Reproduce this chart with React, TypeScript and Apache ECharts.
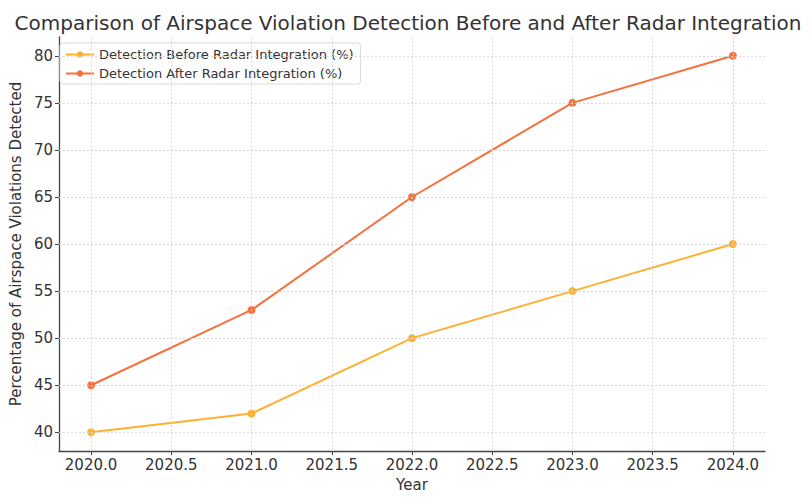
import React, { useEffect, useRef } from "react";
import * as echarts from "echarts";

const years = [2020, 2021, 2022, 2023, 2024];
const beforeValues = [40, 42, 50, 55, 60];
const afterValues = [45, 53, 65, 75, 80];
const seriesNames = ["Detection Before Radar Integration (%)", "Detection After Radar Integration (%)"];
const xTicks = [2020, 2020.5, 2021, 2021.5, 2022, 2022.5, 2023, 2023.5, 2024];
const yTicks = [40, 45, 50, 55, 60, 65, 70, 75, 80];

const FONT = "DejaVu Sans";

export default function App() {
  const ref = useRef<HTMLDivElement>(null);
  useEffect(() => {
    const chart = echarts.init(ref.current!, null, { renderer: "svg" });
    const mk = (vals: number[]) => years.map((y, i) => [y, vals[i]]);
    chart.setOption({
      animation: false,
      backgroundColor: "#fff",
      textStyle: { fontFamily: FONT },
      title: {
        text: "Comparison of Airspace Violation Detection Before and After Radar Integration",
        left: 403,
        textAlign: "center",
        top: 8,
        textStyle: { fontFamily: FONT, fontSize: 20, fontWeight: "normal", color: "#333" },
      },
      legend: {
        orient: "vertical",
        left: 60,
        top: 43,
        itemWidth: 28,
        itemHeight: 8,
        itemGap: 6,
        padding: [5, 7, 4, 5],
        borderColor: "#d9d9d9",
        borderWidth: 1,
        borderRadius: 3,
        backgroundColor: "rgba(255,255,255,0.9)",
        textStyle: { fontFamily: FONT, fontSize: 13, color: "#333" },
        data: seriesNames,
      },
      grid: { left: 56, right: 46, top: 37, bottom: 36, containLabel: false },
      xAxis: {
        type: "value",
        min: 2019.8,
        max: 2024.2,
        interval: 0.5,
        name: "Year",
        nameLocation: "middle",
        nameGap: 22,
        nameTextStyle: { fontFamily: FONT, fontSize: 15, color: "#333" },
        axisLine: { show: true, lineStyle: { color: "#444", width: 1.3 } },
        axisTick: { show: true, length: 4, lineStyle: { color: "#444" }, customValues: xTicks },
        axisLabel: {
          fontFamily: FONT,
          fontSize: 15,
          color: "#333",
          margin: 6,
          customValues: xTicks,
          formatter: (v: number) => v.toFixed(1),
        },
        splitLine: { show: false },
      },
      yAxis: {
        type: "value",
        min: 38,
        max: 82,
        name: "Percentage of Airspace Violations Detected",
        nameLocation: "middle",
        nameGap: 31,
        nameTextStyle: { fontFamily: FONT, fontSize: 15, color: "#333" },
        axisLine: { show: true, lineStyle: { color: "#444", width: 1.3 } },
        axisTick: { show: true, length: 4, lineStyle: { color: "#444" }, customValues: yTicks },
        axisLabel: {
          fontFamily: FONT,
          fontSize: 15,
          color: "#333",
          margin: 6,
          customValues: yTicks,
        },
        splitLine: { show: false },
      },
      series: [
        {
          name: seriesNames[0],
          type: "line",
          data: mk(beforeValues),
          symbol: "circle",
          symbolSize: 8,
          itemStyle: { color: "#fdb032", borderWidth: 0 },
          lineStyle: { color: "#fdb032", width: 2 },
          z: 3,
        },
        {
          name: seriesNames[1],
          type: "line",
          data: mk(afterValues),
          symbol: "circle",
          symbolSize: 8,
          itemStyle: { color: "#f5703c", borderWidth: 0 },
          lineStyle: { color: "#f5703c", width: 2 },
          z: 3,
        },
        {
          type: "line",
          data: [],
          silent: true,
          markLine: {
            silent: true,
            symbol: "none",
            label: { show: false },
            lineStyle: { color: "#d8d8d8", type: [2, 2], width: 1 },
            data: [
              ...xTicks.map((x) => ({ xAxis: x })),
              ...yTicks.map((y) => ({ yAxis: y })),
            ],
          },
          z: 1,
        },
      ],
    });
    return () => chart.dispose();
  }, []);
  return <div ref={ref} style={{ width: 811, height: 497, position: "absolute", left: 0, top: 0 }} />;
}
